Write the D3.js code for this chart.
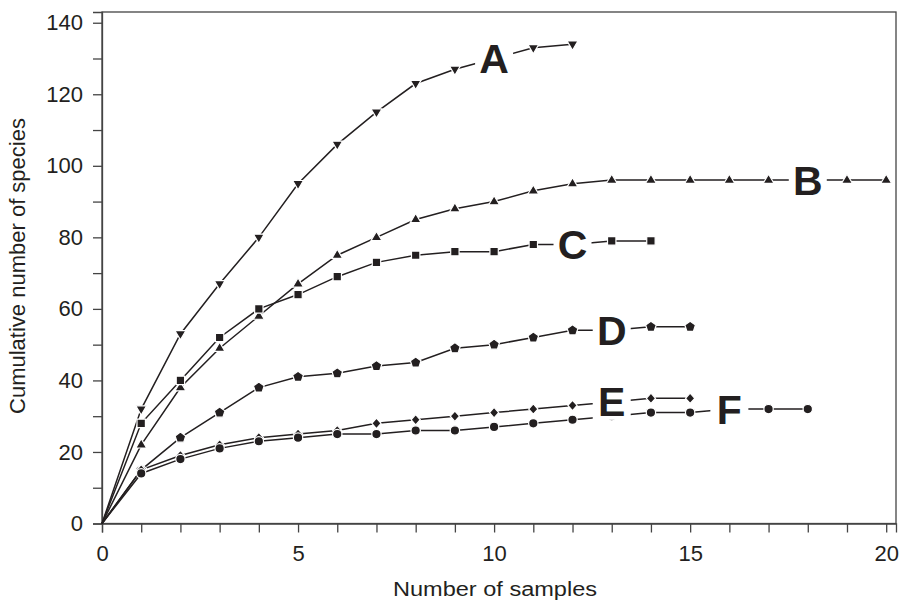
<!DOCTYPE html>
<html>
<head>
<meta charset="utf-8">
<script src="https://cdn.jsdelivr.net/npm/d3@7"></script>
<style>
  body { margin: 0; background: #fff; }
  svg { display: block; font-family: 'Liberation Sans', Arial, sans-serif; }
</style>
</head>
<body>
<svg width="903" height="602"></svg>
<script>

// samples 1..n for each curve
let seriesA = [32, 53, 67, 80, 95, 106, 115, 123, 127, 130, 133, 134];
let seriesB = [22, 38, 49, 58, 67, 75, 80, 85, 88, 90, 93, 95, 96, 96, 96, 96, 96, 96, 96, 96];
let seriesC = [28, 40, 52, 60, 64, 69, 73, 75, 76, 76, 78, 78, 79, 79];
let seriesD = [15, 24, 31, 38, 41, 42, 44, 45, 49, 50, 52, 54, 54, 55, 55];
let seriesE = [15, 19, 22, 24, 25, 26, 28, 29, 30, 31, 32, 33, 34, 35, 35];
let seriesF = [14, 18, 21, 23, 24, 25, 25, 26, 26, 27, 28, 29, 30, 31, 31, 32, 32, 32];

let seriesNames = ['A', 'B', 'C', 'D', 'E', 'F'];
let labelAt = [10, 18, 12, 13, 13, 16];
let markerTypes = ['down', 'up', 'square', 'pentagon', 'diamond', 'circle'];

let xTicks = d3.range(0, 21, 1);
let yTicks = d3.range(0, 141, 10);

let ink = '#231f20';

let svg = d3.select('svg');

let xScale = d3.scaleLinear()
               .domain([0, 20.25])
               .range([102, 896]);

let yScale = d3.scaleLinear()
               .domain([0, 143])
               .range([523.5, 12]);

// frame
svg.append('rect')
   .attr('x', 102)
   .attr('y', 12)
   .attr('width', 794)
   .attr('height', 511.5)
   .attr('fill', 'none')
   .attr('stroke', '#444')
   .attr('stroke-width', 1.3);

let xAxis = d3.axisBottom(xScale)
              .tickValues(xTicks)
              .tickSize(9)
              .tickPadding(13)
              .tickFormat(function(d) { return d % 5 == 0 ? d : ''; });

let xAxisG = svg.append('g')
                .attr('transform', 'translate(0,' + yScale(0) + ')')
                .call(xAxis);

let yAxis = d3.axisLeft(yScale)
              .tickValues(yTicks)
              .tickSize(9)
              .tickPadding(10)
              .tickFormat(function(d) { return d % 20 == 0 ? d : ''; });

let yAxisG = svg.append('g')
                .attr('transform', 'translate(' + xScale(0) + ',0)')
                .call(yAxis);

[xAxisG, yAxisG].forEach(function(g) {
  g.select('.domain').attr('stroke', '#444').attr('stroke-width', 1.3);
  g.selectAll('.tick line').attr('stroke', '#444').attr('stroke-width', 1.3);
  g.selectAll('.tick text')
   .attr('fill', ink)
   .style('font-size', '22px')
   .style('font-family', "'Liberation Sans', Arial, sans-serif");
});

svg.append('text')
   .attr('x', 495)
   .attr('y', 596)
   .attr('text-anchor', 'middle')
   .attr('fill', ink)
   .style('font-size', '20px')
   .attr('textLength', 204)
   .attr('lengthAdjust', 'spacingAndGlyphs')
   .text('Number of samples');

svg.append('text')
   .attr('transform', 'translate(25,266) rotate(-90)')
   .attr('text-anchor', 'middle')
   .attr('fill', ink)
   .style('font-size', '22px')
   .text('Cumulative number of species');

function markerPath(type) {
  let p = d3.path();
  if (type == 'circle') {
    p.arc(0, 0, 4.7, 0, 2 * Math.PI);
  } else if (type == 'square') {
    p.rect(-4.2, -4.2, 8.4, 8.4);
  } else if (type == 'diamond') {
    p.moveTo(0, -5.2); p.lineTo(4.6, 0); p.lineTo(0, 5.2); p.lineTo(-4.6, 0); p.closePath();
  } else if (type == 'up') {
    p.moveTo(0, -6); p.lineTo(5.4, 3.2); p.lineTo(-5.4, 3.2); p.closePath();
  } else if (type == 'down') {
    p.moveTo(0, 6); p.lineTo(5.4, -3.2); p.lineTo(-5.4, -3.2); p.closePath();
  } else if (type == 'pentagon') {
    for (let i = 0; i < 5; i++) {
      let a = -Math.PI / 2 + i * 2 * Math.PI / 5;
      if (i == 0) p.moveTo(5.6 * Math.cos(a), 5.6 * Math.sin(a));
      else p.lineTo(5.6 * Math.cos(a), 5.6 * Math.sin(a));
    }
    p.closePath();
  }
  return p.toString();
}

let allSeries = [seriesA, seriesB, seriesC, seriesD, seriesE, seriesF];

let line = d3.line()
             .x(function(d) { return xScale(d.x); })
             .y(function(d) { return yScale(d.y); });

let points = allSeries.map(function(values) {
  return [{x: 0, y: 0}].concat(values.map(function(v, i) {
    return {x: i + 1, y: v};
  }));
});

// lines first, then the markers with a white halo
points.forEach(function(pts) {
  svg.append('path')
     .attr('d', line(pts))
     .attr('fill', 'none')
     .attr('stroke', ink)
     .attr('stroke-width', 1.5);
});

points.forEach(function(pts, n) {
  svg.append('g')
     .selectAll('path')
     .data(pts.filter(function(d) { return d.x > 0 && d.x != labelAt[n]; }))
     .enter()
     .append('path')
     .attr('d', markerPath(markerTypes[n]))
     .attr('transform', function(d) {
       return 'translate(' + xScale(d.x) + ',' + yScale(d.y) + ')';
     })
     .attr('fill', ink)
     .attr('stroke', '#fff')
     .attr('stroke-width', 1.2);
});

// curve letters sit on a white box covering the line
points.forEach(function(pts, n) {
  let d = pts[labelAt[n]];
  let g = svg.append('g')
             .attr('transform', 'translate(' + xScale(d.x) + ',' + yScale(d.y) + ')');
  g.append('rect')
   .attr('x', -19)
   .attr('y', -18)
   .attr('width', 38)
   .attr('height', 36)
   .attr('fill', '#fff');
  g.append('text')
   .attr('text-anchor', 'middle')
   .attr('y', 14.5)
   .attr('fill', ink)
   .style('font-size', '41px')
   .style('font-weight', 'bold')
   .text(seriesNames[n]);
});

</script>
</body>
</html>
